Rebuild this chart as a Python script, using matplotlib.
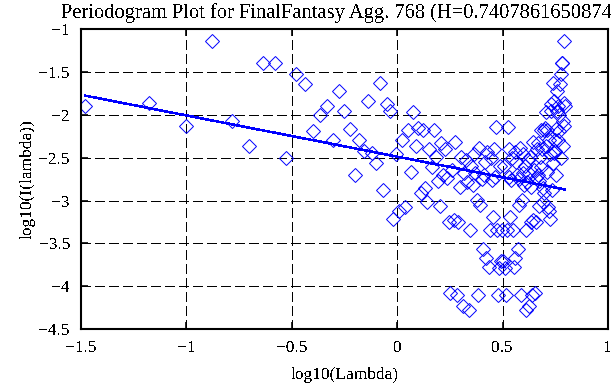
import matplotlib
matplotlib.use("Agg")
import matplotlib.pyplot as plt
import numpy as np

# --- periodogram data ---
n_obs = 190                          # series length -> frequencies 2*pi*k/n
freq_index = np.arange(1, n_obs)     # k = 1 .. n-1

# log10(I(lambda)) for k = 1 .. 95
logI_low = [
    -1.89, -1.86, -2.13, -1.13, -2.07, -2.36, -1.39, -1.39, -2.50, -1.52,
    -1.64, -2.19, -2.00, -1.89, -2.29, -1.72, -1.95, -2.16, -2.70, -2.29,
    -2.42, -1.84, -2.44, -2.56, -1.63, -2.88, -1.87, -1.95, -3.22, -2.45,
    -3.12, -2.29, -3.08, -2.18, -2.66, -1.96, -2.36, -2.15, -2.91, -2.18,
    -2.85, -3.02, -2.40, -2.61, -2.18, -2.49, -2.77, -3.06, -2.33, -2.70,
    -2.40, -2.74, -3.25, -4.08, -2.64, -3.23, -2.31, -4.10, -3.25, -2.84,
    -2.49, -4.23, -2.68, -2.52, -2.78, -4.28, -3.34, -2.60, -2.82, -2.45,
    -2.68, -2.99, -4.10, -2.38, -3.05, -2.75, -3.56, -2.70, -2.55, -3.67,
    -2.43, -3.77, -3.34, -2.50, -2.76, -3.19, -2.40, -2.72, -2.14, -3.34,
    -4.10, -3.79, -2.60, -3.71, -3.34,
]
# log10(I(lambda)) for k = 96 .. 189
logI_high = [
    -3.71, -2.60, -3.79, -4.10, -3.34, -2.14, -2.72, -2.40, -3.19, -2.76,
    -2.50, -3.34, -3.77, -2.43, -3.67, -2.55, -2.70, -3.56, -2.75, -3.05,
    -2.38, -4.10, -2.99, -2.68, -2.45, -2.82, -2.60, -3.34, -4.28, -2.78,
    -2.52, -2.68, -4.23, -2.49, -2.84, -3.25, -4.10, -2.31, -3.23, -2.64,
    -4.08, -3.25, -2.74, -2.40, -2.70, -2.33, -3.06, -2.77, -2.49, -2.18,
    -2.61, -2.40, -3.02, -2.85, -2.18, -2.91, -2.15, -2.36, -1.96, -2.66,
    -2.18, -3.08, -2.29, -3.12, -2.45, -3.22, -1.95, -1.87, -2.88, -1.63,
    -2.56, -2.44, -1.84, -2.42, -2.29, -2.70, -2.16, -1.95, -1.72, -2.29,
    -1.89, -2.00, -2.19, -1.64, -1.52, -2.50, -1.39, -1.39, -2.36, -2.07,
    -1.13, -2.13, -1.86, -1.89,
]

hurst = 0.74078616508743
fit_intercept = -2.486
title = f"Periodogram Plot for FinalFantasy Agg. 768 (H={hurst})"

plt.rcParams["font.family"] = ["Liberation Serif", "DejaVu Serif"]
plt.rcParams["text.antialiased"] = False
plt.rcParams["lines.antialiased"] = False

log_lambda = np.log10(2 * np.pi * freq_index / n_obs)
log_I = np.array(logI_low + logI_high)
fit_slope = 1 - 2 * hurst
fit_line = fit_intercept + fit_slope * log_lambda

fig = plt.figure(figsize=(6.11, 3.85), dpi=100)
ax = fig.add_axes([0.1326, 0.1455, 0.8625, 0.7779])

ax.plot(log_lambda, log_I, linestyle="none", marker="D", markersize=6.8,
        markerfacecolor="none", markeredgecolor="blue", markeredgewidth=0.7)
ax.plot(log_lambda, fit_line, color="blue", linewidth=1.1)

ax.set_xlim(-1.5, 1)
ax.set_ylim(-4.5, -1)
ax.set_xticks([-1.5, -1, -0.5, 0, 0.5, 1])
ax.set_xticklabels(["\u22121.5", "\u22121", "\u22120.5", "0", "0.5", "1"])
ax.set_yticks([-4.5, -4, -3.5, -3, -2.5, -2, -1.5, -1])
ax.set_yticklabels(["\u22124.5", "\u22124", "\u22123.5", "\u22123", "\u22122.5",
                    "\u22122", "\u22121.5", "\u22121"])
ax.grid(True, color="black", linewidth=0.7, linestyle=(0, (10, 5)))
ax.tick_params(direction="in", length=5, width=1.2, top=True, right=True,
               labelsize=12.5, pad=8)
for spine in ax.spines.values():
    spine.set_linewidth(1.5)

ax.set_xlabel("log10(Lambda)", fontsize=12.5, labelpad=8)
ax.set_ylabel("log10(I(lambda))", fontsize=12.5, labelpad=2)
# title runs past the right edge, as in the reference
ax.set_title(title, fontsize=14.8, pad=8)

fig.savefig("out.png", dpi=100)
